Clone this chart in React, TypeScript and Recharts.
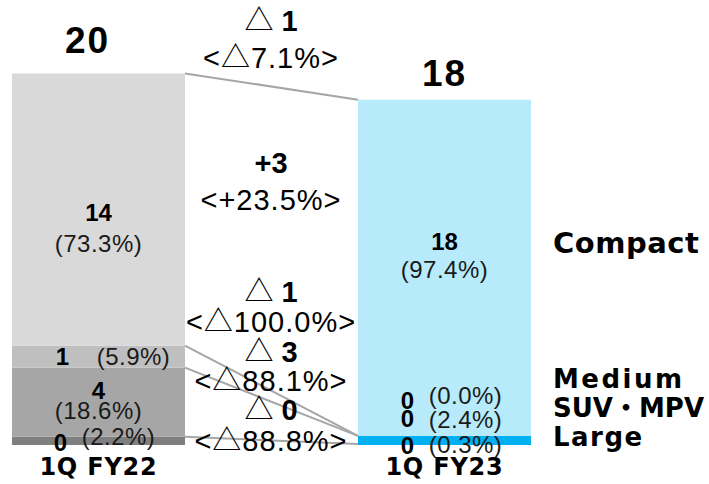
import { BarChart, Bar, XAxis, YAxis, ReferenceLine, LabelList, Cell } from 'recharts';

// unit volumes per period (10k units); labels show rounded values
const periods = ['1Q FY22', '1Q FY23'];
const compact = [14.37, 17.74];
const medium = [1.16, 0];
const suvMpv = [3.65, 0.434];
const large = [0.43, 0.048];

const legendNames = ['Compact', 'Medium', 'SUV・MPV', 'Large'];

const W = 709;
const H = 484;
const SANS = '"Liberation Sans", Arial, "Noto Sans CJK JP", sans-serif';
const WIDE = '"DejaVu Sans", "Noto Sans CJK JP", sans-serif';

type Key = 'large' | 'suv' | 'medium' | 'compact';
const series: { key: Key; values: number[]; fill: [string, string] }[] = [
  { key: 'large', values: large, fill: ['#7f7f7f', '#00b0f0'] },
  { key: 'suv', values: suvMpv, fill: ['#a6a6a6', '#00b0f0'] },
  { key: 'medium', values: medium, fill: ['#bfbfbf', '#b7ebfb'] },
  { key: 'compact', values: compact, fill: ['#d9d9d9', '#b7ebfb'] },
];
const valuesOf = Object.fromEntries(series.map((s) => [s.key, s.values])) as Record<Key, number[]>;

const totals = periods.map((_, i) => compact[i] + medium[i] + suvMpv[i] + large[i]);

// four bands: left bar, gap for change labels, right bar, legend column
const rows = [
  { name: periods[0], pos: 0, large: large[0], suv: suvMpv[0], medium: medium[0], compact: compact[0] },
  { name: 'gap', pos: 1, large: 0, suv: 0, medium: 0, compact: 0 },
  { name: periods[1], pos: 2, large: large[1], suv: suvMpv[1], medium: medium[1], compact: compact[1] },
  { name: 'legend', pos: 3, large: 0, suv: 0, medium: 0, compact: 0 },
];

// left bar: offsets from segment centre [dxNum, dyNum, dxPct, dyPct]
const leftPos: Record<Key, [number, number, number, number]> = {
  compact: [0, 3, 0, 34],
  medium: [-36, 0, 35, 0],
  suv: [0, -12, 0, 8],
  large: [-38, 2, 20, -4],
};
// right bar: the thin segments are listed upward from the bar's bottom edge
const rightSmall: [Key, number, number][] = [
  ['medium', -45, -50],
  ['suv', -27, -26],
  ['large', 0, -1],
];

const pct = (v: number, t: number) => ((v / t) * 100).toFixed(1);

const Pair = ({ x, y, xp, yp, v, t }: any) => (
  <g>
    <text x={x} y={y} textAnchor="middle" dominantBaseline="central"
      fontFamily={SANS} fontWeight="bold" fontSize={24} fill="#000">
      {Math.round(v)}
    </text>
    <text x={xp} y={yp} textAnchor="middle" dominantBaseline="central"
      fontFamily={SANS} fontSize={24} letterSpacing={0.5} fill="#1a1a1a">
      ({pct(v, t)}%)
    </text>
  </g>
);

const segmentLabel = (key: Key) => (props: any) => {
  const col = periods.indexOf(props.value);
  if (col < 0) return null;
  const vb = props.viewBox ?? props;
  const cx = vb.x + vb.width / 2;
  const cy = vb.y + vb.height / 2;
  if (col === 0) {
    const [dxN, dyN, dxP, dyP] = leftPos[key];
    return <Pair x={cx + dxN} y={cy + dyN} xp={cx + dxP} yp={cy + dyP} v={valuesOf[key][0]} t={totals[0]} />;
  }
  if (key === 'compact') {
    return <Pair x={cx} y={cy - 26} xp={cx} yp={cy + 2} v={compact[1]} t={totals[1]} />;
  }
  if (key !== 'large') return null;
  const bottom = vb.y + vb.height;
  return (
    <g>
      {rightSmall.map(([k, dyN, dyP]) => (
        <Pair key={k} x={cx - 37} y={bottom + dyN} xp={cx + 21} yp={bottom + dyP} v={valuesOf[k][1]} t={totals[1]} />
      ))}
    </g>
  );
};

const totalPos = [[-11, -33], [0, -26]];
const totalLabel = (props: any) => {
  const col = periods.indexOf(props.value);
  if (col < 0) return null;
  const vb = props.viewBox ?? props;
  return (
    <text x={vb.x + vb.width / 2 + totalPos[col][0]} y={vb.y + totalPos[col][1]} textAnchor="middle"
      dominantBaseline="central" fontFamily={SANS} fontWeight="bold" fontSize={37} letterSpacing={2} fill="#000">
      {Math.round(totals[col])}
    </text>
  );
};

// change rows: total, then each segment, placed in the gap band
const changes = [
  [totals[0], totals[1]],
  [compact[0], compact[1]],
  [medium[0], medium[1]],
  [suvMpv[0], suvMpv[1]],
  [large[0], large[1]],
];
const changeY = [[21, 58], [163, 200], [292, 322], [352, 381], [410, 441]];

// boundaries between segments, bottom to top, for the connector lines
const cumulative = (i: number) => {
  let acc = 0;
  return [large[i], suvMpv[i], medium[i], compact[i]].map((v) => (acc += v));
};
const leftEdges = cumulative(0);
const rightEdges = cumulative(1);

const PeriodTick = (p: any) => {
  if (!periods.includes(p.payload.value)) return <g />;
  return (
    <text x={p.x} y={p.y + 14} textAnchor="middle" dominantBaseline="central"
      fontFamily={WIDE} fontWeight="bold" fontSize={24} letterSpacing={0.8} fill="#000">
      {p.payload.value}
    </text>
  );
};

const legendY = [243, 379, 408, 437];
const legendSpacing = [0.5, 2.5, 0, 1.5];

export default function App() {
  return (
    <div style={{ position: 'absolute', left: 0, top: 0, width: W, height: H, background: '#fff' }}>
      <BarChart width={W} height={H} data={rows} barCategoryGap={0}
        margin={{ top: 66, right: 5, bottom: 0, left: 12 }}>
        <XAxis dataKey="name" height={39} axisLine={false} tickLine={false} interval={0} tick={PeriodTick} />
        <XAxis xAxisId="n" dataKey="pos" type="number" domain={[0, 4]} allowDataOverflow hide />
        <YAxis hide domain={[0, 20]} />
        {series.map((s) => (
          <Bar key={s.key} dataKey={s.key} stackId="a" isAnimationActive={false}>
            {rows.map((_, i) => (
              <Cell key={i} fill={s.fill[i === 2 ? 1 : 0]} />
            ))}
            <LabelList dataKey="name" content={segmentLabel(s.key)} />
            {s.key === 'compact' && <LabelList dataKey="name" content={totalLabel} />}
          </Bar>
        ))}
        {leftEdges.map((y0, k) => (
          <ReferenceLine key={k} xAxisId="n" ifOverflow="visible"
            segment={[{ x: 1, y: y0 }, { x: 2, y: rightEdges[k] }]}
            stroke="#a6a6a6" strokeWidth={2} />
        ))}
      </BarChart>
      <svg width={W} height={H} style={{ position: 'absolute', left: 0, top: 0, pointerEvents: 'none' }}>
        {changes.map(([a, b], k) => {
          const d = b - a;
          const down = d < 0;
          const n = Math.round(Math.abs(d));
          const p = ((Math.abs(d) / a) * 100).toFixed(1);
          return (
            <g key={k} fontFamily={SANS} fontSize={29} fill="#000" textAnchor="middle">
              <text x={271} y={changeY[k][0]} dominantBaseline="central">
                {down ? <tspan>△ </tspan> : null}
                <tspan fontWeight="bold">{down ? n : `+${n}`}</tspan>
              </text>
              <text x={271} y={changeY[k][1]} dominantBaseline="central" letterSpacing={1}>
                {`<${down ? '△' : '+'}${p}%>`}
              </text>
            </g>
          );
        })}
        {legendNames.map((name, k) => (
          <text key={name} x={553} y={legendY[k]} dominantBaseline="central"
            fontFamily={WIDE} fontWeight="bold" fontSize={k === 0 ? 29 : 26} letterSpacing={legendSpacing[k]} fill="#000">
            {name}
          </text>
        ))}
      </svg>
    </div>
  );
}
